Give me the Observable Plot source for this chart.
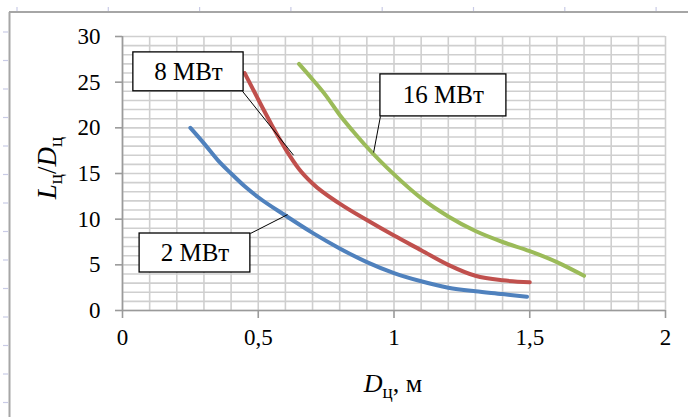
<!DOCTYPE html>
<html>
<head>
<meta charset="utf-8">
<script src="https://cdn.jsdelivr.net/npm/d3@7"></script>
<script src="https://cdn.jsdelivr.net/npm/@observablehq/plot@0.6"></script>
<style>
  html, body { margin: 0; padding: 0; background: #fff; }
  #chart { width: 688px; height: 417px; }
</style>
</head>
<body>
<div id="chart"></div>
<script>
// ---- data ----
const seriesNames = ["2 МВт", "8 МВт", "16 МВт"];
const seriesColors = ["#4F81BD", "#C0504D", "#9BBB59"];

const d2 = [[0.25,20],[0.3,18.3],[0.35,16.5],[0.4,15.0],[0.45,13.6],[0.5,12.4],[0.6,10.4],[0.7,8.5],[0.8,6.8],[0.9,5.3],[1.0,4.1],[1.1,3.2],[1.2,2.5],[1.3,2.1],[1.4,1.8],[1.49,1.5]];
const d8 = [[0.45,26.0],[0.5,23.1],[0.55,20.3],[0.6,17.7],[0.65,15.5],[0.7,13.9],[0.8,11.7],[0.9,9.9],[1.0,8.2],[1.1,6.6],[1.2,5.0],[1.3,3.8],[1.4,3.3],[1.5,3.1]];
const d16 = [[0.65,27],[0.7,25.3],[0.75,23.5],[0.8,21.4],[0.85,19.6],[0.9,17.9],[1.0,14.9],[1.1,12.3],[1.2,10.3],[1.3,8.7],[1.4,7.5],[1.5,6.5],[1.6,5.3],[1.7,3.8]];

const xTicks = [0, 0.5, 1, 1.5, 2];
const yTicks = [0, 5, 10, 15, 20, 25, 30];
const xGrid = d3.range(0, 21).map(i => i / 10);
const yGrid = d3.range(0, 31);

// annotation boxes (data coordinates)
const labelText = ["8 МВт", "16 МВт", "2 МВт"];
const boxX1 = [0.04, 0.95, 0.063];
const boxX2 = [0.446, 1.414, 0.471];
const boxY1 = [24.0, 21.25, 4.16];
const boxY2 = [28.26, 25.85, 8.43];
const leadX1 = [0.442, 0.95, 0.471];
const leadY1 = [24.0, 21.25, 8.43];
const leadX2 = [0.63, 0.925, 0.608];
const leadY2 = [17.0, 17.3, 10.5];

// ---- build tables ----
const lines = [];
[d2, d8, d16].forEach((arr, i) => arr.forEach(([x, y]) => lines.push({series: seriesNames[i], x, y})));
const ann = labelText.map((t, i) => ({
  t, x1: boxX1[i], x2: boxX2[i], y1: boxY1[i], y2: boxY2[i],
  cx: (boxX1[i] + boxX2[i]) / 2, cy: (boxY1[i] + boxY2[i]) / 2,
  lx1: leadX1[i], ly1: leadY1[i], lx2: leadX2[i], ly2: leadY2[i]
}));

const font = "'Liberation Serif', 'Times New Roman', serif";
const fmt = d => String(d).replace(".", ",");

const chart = Plot.plot({
  width: 688, height: 417,
  marginLeft: 122, marginRight: 23, marginTop: 36, marginBottom: 107,
  style: {fontSize: "23px", background: "transparent", color: "#000", overflow: "visible"},
  x: {domain: [0, 2], label: null},
  y: {domain: [0, 30], label: null},
  color: {domain: seriesNames, range: seriesColors},
  marks: [
    Plot.ruleX(xGrid, {stroke: "#cfcfcf", strokeWidth: 1.6}),
    Plot.ruleY(yGrid, {stroke: "#cfcfcf", strokeWidth: 1.6}),
    Plot.ruleX([0], {stroke: "#9a9a9a", strokeWidth: 1.6}),
    Plot.ruleY([0], {stroke: "#9a9a9a", strokeWidth: 1.6}),
    Plot.axisX({ticks: xTicks, tickFormat: fmt, tickSize: 8, tickPadding: 10, stroke: "#9a9a9a", fill: "#000", strokeWidth: 1.6, fontSize: 23}),
    Plot.axisY({ticks: yTicks, tickSize: 7, tickPadding: 15, stroke: "#9a9a9a", fill: "#000", strokeWidth: 1.6, fontSize: 23}),
    Plot.line(lines, {x: "x", y: "y", z: "series", stroke: "series", strokeWidth: 4, curve: "monotone-x"}),
    Plot.link(ann, {x1: "lx1", y1: "ly1", x2: "lx2", y2: "ly2", stroke: "#000", strokeWidth: 1}),
    Plot.rect(ann, {x1: "x1", x2: "x2", y1: "y1", y2: "y2", fill: "#fff", stroke: "#000", strokeWidth: 1.3}),
    Plot.text(ann, {x: "cx", y: "cy", text: "t", fontSize: 25, fill: "#000", textAnchor: "middle", lineAnchor: "middle"})
  ]
});

const svg = d3.select(chart);

// axis titles
const yt = svg.append("text")
  .attr("transform", "translate(56,168) rotate(-90)")
  .attr("text-anchor", "middle")
  .attr("font-size", 27).attr("fill", "#000");
yt.append("tspan").attr("font-style", "italic").text("L");
yt.append("tspan").attr("font-size", 19).attr("dy", 6).text("ц");
yt.append("tspan").attr("dy", -6).text("/");
yt.append("tspan").attr("font-style", "italic").text("D");
yt.append("tspan").attr("font-size", 19).attr("dy", 6).text("ц");

const xt = svg.append("text")
  .attr("x", 393).attr("y", 392)
  .attr("text-anchor", "middle")
  .attr("font-size", 26).attr("fill", "#000");
xt.append("tspan").attr("font-style", "italic").text("D");
xt.append("tspan").attr("font-size", 19).attr("dy", 6).text("ц");
xt.append("tspan").attr("dy", -6).text(", м");

// force serif font on all texts
svg.style("font-family", font);
svg.selectAll("g").each(function() { this.style.setProperty("font-family", font, "important"); this.removeAttribute("font-family"); });
svg.selectAll("text, tspan").each(function() { this.removeAttribute("font-family"); this.style.setProperty("font-family", font, "important"); });

// outer chart-area border (cropped)
svg.append("line").attr("x1", 9.5).attr("x2", 9.5).attr("y1", 12).attr("y2", 417).attr("stroke", "#a6a6a6").attr("stroke-width", 2);
svg.append("line").attr("x1", 9).attr("x2", 688).attr("y1", 12).attr("y2", 12).attr("stroke", "#a6a6a6").attr("stroke-width", 2);
d3.range(0, 14).forEach(i => {
  const y = 32 + 28.5 * i;
  svg.append("line").attr("x1", 3).attr("x2", 8).attr("y1", y).attr("y2", y).attr("stroke", "#c9cbe6").attr("stroke-width", 1.2);
});
d3.range(0, 8).forEach(i => {
  const x = 17 + 91.3 * i;
  svg.append("line").attr("x1", x).attr("x2", x).attr("y1", 7).attr("y2", 11).attr("stroke", "#c9cbe6").attr("stroke-width", 1.2);
});

document.getElementById("chart").appendChild(chart);
</script>
</body>
</html>
